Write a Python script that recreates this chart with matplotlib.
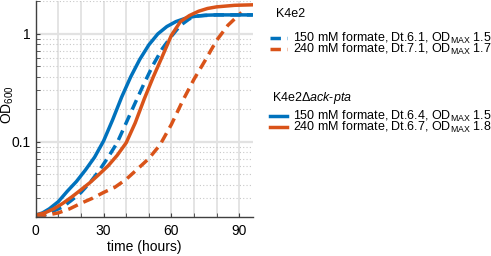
import numpy as np
import matplotlib
matplotlib.use('Agg')
import matplotlib.pyplot as plt
from matplotlib.ticker import FixedLocator, NullFormatter

plt.rcParams['font.family'] = ['Liberation Sans', 'DejaVu Sans']
plt.rcParams['mathtext.fontset'] = 'custom'
plt.rcParams['mathtext.rm'] = 'Liberation Sans'
plt.rcParams['mathtext.it'] = 'Liberation Sans:italic'

# K4e2, 150 mM formate (dashed blue)
t_wt150 = [0, 4, 8, 12, 16, 20, 24, 28, 32, 36, 40, 44, 48, 52, 56, 60, 64, 68, 72, 80, 88, 96]
od_wt150 = [0.021, 0.021, 0.023, 0.025, 0.029, 0.034, 0.042, 0.054, 0.072, 0.098, 0.15, 0.23,
            0.35, 0.52, 0.73, 0.95, 1.2, 1.38, 1.47, 1.5, 1.5, 1.5]
# K4e2, 240 mM formate (dashed orange)
t_wt240 = [0, 5, 10, 15, 20, 25, 30, 35, 40, 45, 50, 55, 60, 65, 70, 75, 80, 85, 91]
od_wt240 = [0.021, 0.021, 0.022, 0.024, 0.027, 0.030, 0.034, 0.038, 0.045, 0.056, 0.07, 0.094,
            0.145, 0.24, 0.38, 0.57, 0.87, 1.2, 1.58]
# K4e2 dack-pta, 150 mM formate (solid blue)
t_ko150 = [0, 3, 6, 10, 14, 18, 22, 26, 30, 34, 38, 42, 46, 50, 54, 58, 62, 66, 70, 75, 80, 88, 96]
od_ko150 = [0.021, 0.022, 0.024, 0.028, 0.035, 0.043, 0.055, 0.072, 0.102, 0.16, 0.26, 0.40,
            0.58, 0.79, 1.0, 1.17, 1.3, 1.39, 1.45, 1.49, 1.5, 1.5, 1.5]
# K4e2 dack-pta, 240 mM formate (solid orange)
t_ko240 = [0, 4, 8, 12, 16, 20, 24, 28, 32, 36, 40, 44, 48, 52, 56, 60, 64, 68, 72, 76, 80, 88, 96]
od_ko240 = [0.021, 0.022, 0.024, 0.027, 0.031, 0.036, 0.042, 0.05, 0.06, 0.075, 0.098, 0.15,
            0.25, 0.40, 0.62, 0.97, 1.3, 1.48, 1.62, 1.72, 1.78, 1.84, 1.86]

labels_wt = [r'150 mM formate, Dt.6.1, OD$_{\mathrm{MAX}}$ 1.5',
             r'240 mM formate, Dt.7.1, OD$_{\mathrm{MAX}}$ 1.7']
labels_ko = [r'150 mM formate, Dt.6.4, OD$_{\mathrm{MAX}}$ 1.5',
             r'240 mM formate, Dt.6.7, OD$_{\mathrm{MAX}}$ 1.8']

blue = '#0072BD'
orange = '#D95319'

fig = plt.figure(figsize=(4.91, 2.56), dpi=100)
ax = fig.add_axes([0.0729, 0.151, 0.4418, 0.8435])

lw = 2.5
l1, = ax.plot(t_wt150, od_wt150, color=blue, lw=lw, ls=(0, (3, 1.8)), label=labels_wt[0])
l2, = ax.plot(t_wt240, od_wt240, color=orange, lw=lw, ls=(0, (3, 1.8)), label=labels_wt[1])
l3, = ax.plot(t_ko150, od_ko150, color=blue, lw=lw, label=labels_ko[0])
l4, = ax.plot(t_ko240, od_ko240, color=orange, lw=lw, label=labels_ko[1])

ax.set_yscale('log')
ax.set_xlim(0, 96)
ax.set_ylim(0.02, 2)
ax.set_xticks([0, 30, 60, 90])
ax.xaxis.set_minor_locator(FixedLocator(np.arange(10, 96, 10)))
ax.set_yticks([0.1, 1])
ax.set_yticklabels(['0.1', '1'])
ax.yaxis.set_minor_locator(FixedLocator([0.02, 0.03, 0.04, 0.05, 0.06, 0.07, 0.08, 0.09,
                                         0.2, 0.3, 0.4, 0.5, 0.6, 0.7, 0.8, 0.9, 2]))
ax.yaxis.set_minor_formatter(NullFormatter())

ax.grid(True, axis='x', which='both', color='#e2e2e2', lw=1.3, ls='-')
ax.grid(True, axis='y', which='major', color='#e2e2e2', lw=1.6, ls='-')
ax.grid(True, axis='y', which='minor', color='#c8c8c8', lw=0.8, ls=(0, (1, 2)))
ax.set_axisbelow(True)

for s in ['top', 'right']:
    ax.spines[s].set_visible(False)
for s in ['left', 'bottom']:
    ax.spines[s].set_color('#404040')
    ax.spines[s].set_linewidth(1.0)
ax.tick_params(which='both', direction='in', colors='#404040', labelcolor='black', labelsize=10)
ax.tick_params(which='both', length=3)
ax.tick_params(axis='x', pad=5)

ax.set_xlabel('time (hours)', fontsize=10, labelpad=1)
ax.set_ylabel(r'OD$_{600}$', fontsize=10)
ax.yaxis.set_label_coords(-0.092, 0.52)

fs = 9
fig.text(276 / 491, 1 - 14 / 256, 'K4e2', fontsize=fs, va='center', ha='left')
fig.text(272 / 491, 1 - 98 / 256, r'K4e2Δ$\mathit{ack}$-$\mathit{pta}$', fontsize=fs, va='center', ha='left')

leg_kw = dict(loc='upper left', frameon=False, fontsize=fs, handlelength=1.35,
              handletextpad=0.5, labelspacing=-0.3, borderpad=0, borderaxespad=0)
fig.legend(handles=[l1, l2], bbox_to_anchor=(270 / 491, 1 - 31 / 256), **leg_kw)
fig.legend(handles=[l3, l4], bbox_to_anchor=(270 / 491, 1 - 109 / 256), **leg_kw)

fig.savefig('out.png', dpi=100)
